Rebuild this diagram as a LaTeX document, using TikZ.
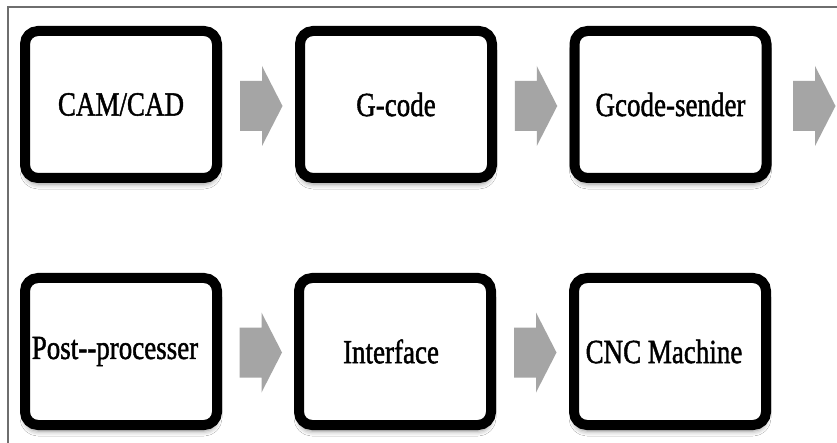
\documentclass[tikz,border=0pt]{standalone}
\usepackage{fontspec}
\newfontfamily\boxfont{Liberation Serif}[FakeBold=1.5]
\usetikzlibrary{calc,shadows.blur}
\definecolor{framegray}{RGB}{110,110,110}
\definecolor{arrowgray}{RGB}{165,165,165}
\newcommand\boxlabel[1]{\scalebox{1}[1.25]{#1}}
% block arrow centred on a named coordinate
\newcommand\blockarrow[1]{%
  \fill[arrowgray] ([shift={(-21,-25)}]#1) -- ([shift={(1,-25)}]#1) -- ([shift={(1,-40)}]#1)
    -- ([shift={(21.5,0)}]#1) -- ([shift={(1,40)}]#1) -- ([shift={(1,25)}]#1)
    -- ([shift={(-21,25)}]#1) -- cycle;}
\tikzset{
  stepbox/.style={draw=black, fill=white, line width=10pt, rounded corners=13pt,
    minimum width=192pt, minimum height=147pt, inner sep=0pt,
    font=\boxfont\fontsize{27}{30}\selectfont,
    blur shadow={shadow xshift=0pt, shadow yshift=-6pt, shadow blur radius=5pt, shadow opacity=45}},
}
\begin{document}
\begin{tikzpicture}[x=1pt, y=-1pt]
  \useasboundingbox (0,0) rectangle (837,443);
  \fill[white] (0,0) rectangle (837,443);
  % frame edges
  \draw[framegray, line width=2pt] (8,443) -- (8,7) -- (837,7);

  % first row
  \node[stepbox] (cam)    at (121,104.5)   {\boxlabel{CAM/CAD}};
  \node[stepbox] (gcode)  at (396,104.5)   {\boxlabel{G-code}};
  \node[stepbox] (sender) at (670.5,104.5) {\boxlabel{Gcode-sender}};
  % second row
  \node[stepbox] (post)   at (121,351.5)   {\hspace*{-12pt}\boxlabel{Post-{}-processer}};
  \node[stepbox] (iface)  at (395,351.5)   {\hspace*{-8pt}\boxlabel{Interface}};
  \node[stepbox] (cnc)    at (670,351.5)   {\hspace*{-12pt}\boxlabel{CNC Machine}};

  % arrows between the steps
  \coordinate (a1) at ($(cam.east)!0.5!(gcode.west)+(2.5,1.5)$);
  \coordinate (a2) at ($(gcode.east)!0.5!(sender.west)+(2.5,1.5)$);
  \coordinate (a3) at ($(sender.east)+(42.5,1.5)$);
  \coordinate (a4) at ($(post.east)!0.5!(iface.west)+(2.5,1)$);
  \coordinate (a5) at ($(iface.east)!0.5!(cnc.west)+(2.5,1)$);
  \blockarrow{a1}
  \blockarrow{a2}
  \blockarrow{a3}
  \blockarrow{a4}
  \blockarrow{a5}
\end{tikzpicture}
\end{document}
